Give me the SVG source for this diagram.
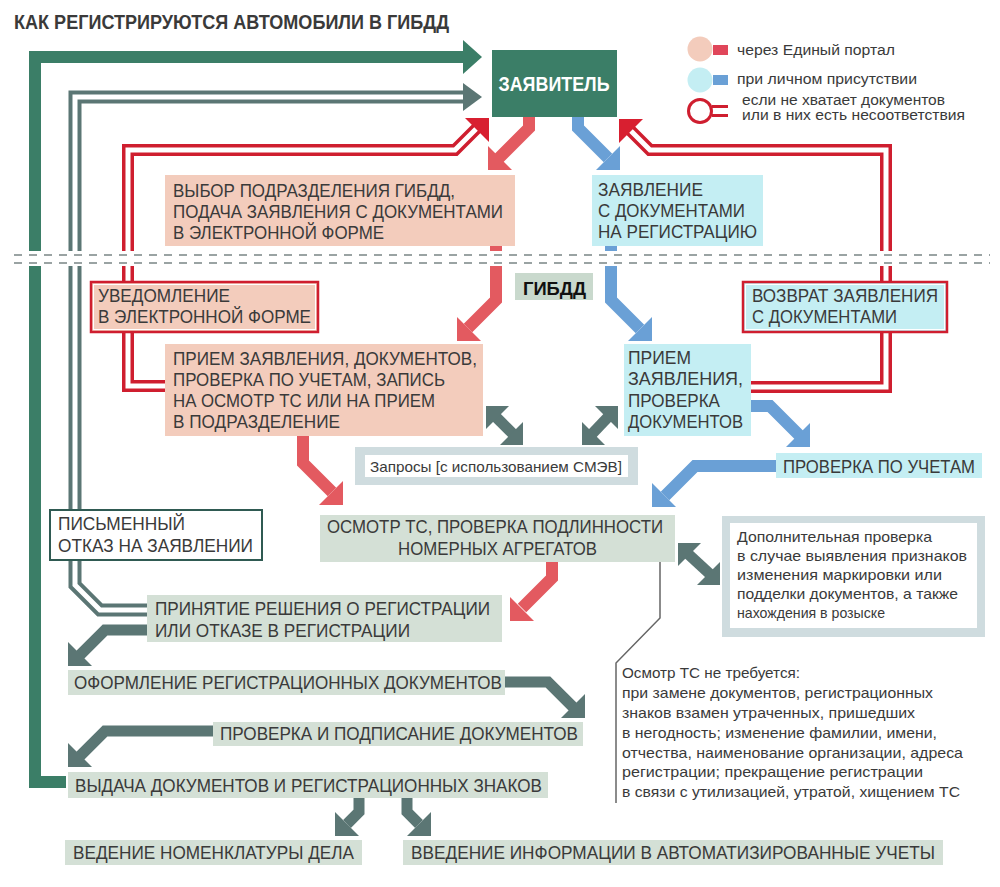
<svg xmlns="http://www.w3.org/2000/svg" width="1000" height="887" viewBox="0 0 1000 887">
<defs>
<style>
text{font-family:"Liberation Sans",Arial,sans-serif;fill:#3a3a3a}
.t{font-size:18px}
.s{font-size:15px}
.l{font-size:14px}
.pink{fill:#f3ccbc}
.blue{fill:#c4eef3}
.gg{fill:#d4e0d6}
.sr{fill:none;stroke:#e35a60;stroke-width:12}
.hr{fill:#e35a60}
.sb{fill:none;stroke:#6aa0d6;stroke-width:12}
.hb{fill:#6aa0d6}
.sg{fill:none;stroke:#5b7674;stroke-width:11}
.hg{fill:#5b7674}
.dr{fill:none;stroke:#cf1e2f;stroke-width:12}
.dg{fill:none;stroke:#5b7674;stroke-width:13}
.dw{fill:none;stroke:#fff;stroke-width:5}
.hd{fill:#d81f30}
.rb{fill:none;stroke:#cf1e2f;stroke-width:2.5}
.ib{fill:none;stroke:#fff;stroke-width:1}
.qo{fill:#cfdcdf}
.dash{stroke:#9aa3a3;stroke-width:2;stroke-dasharray:8 7}
</style>
</defs>
<rect x="0" y="0" width="1000" height="887" fill="#fff"/>

<g id="connectors">
  <path d="M66,782 H35 V57 H465" fill="none" stroke="#3b7e67" stroke-width="12"/>
  <polygon points="482,57 463,40 463,74" fill="#3b7e67"/>
  <path class="dg" d="M148,610 H100 L75,585 V97 H466"/>
  <path class="dw" d="M148,610 H100 L75,585 V97 H466"/>
  <polygon class="hg" points="482,97 463,83 463,111"/>
  <path class="dr" d="M166,386 H128 V150 H455 L479,126"/>
  <path class="dw" d="M166,386 H128 V150 H455 L479,126"/>
  <polygon class="hd" points="489,118 465,118 489,142"/>
  <path class="dr" d="M751,387 H886 V150 H650 L629,129"/>
  <path class="dw" d="M751,387 H886 V150 H650 L629,129"/>
  <polygon class="hd" points="619,119 643,119 619,143"/>
  <path class="sr" d="M529,117 V128 L499,158"/>
  <polygon class="hr" points="488,170 488,146 512,170"/>
  <path class="sb" d="M578,117 V128 L608,158"/>
  <polygon class="hb" points="620,170 620,146 596,170"/>
  <path class="sr" d="M496,246 V300 L468,328"/>
  <polygon class="hr" points="457,341 457,317 481,341"/>
  <path class="sb" d="M611,246 V300 L640,329"/>
  <polygon class="hb" points="652,341 652,317 628,341"/>
  <path class="sr" d="M303,436 V463 L332,492"/>
  <polygon class="hr" points="343,505 343,481 319,505"/>
  <path class="sb" d="M751,406 H770 L799,435"/>
  <polygon class="hb" points="810,447 810,423 786,447"/>
  <path class="sb" d="M777,466 H695 L665,496"/>
  <polygon class="hb" points="652,507 652,483 676,507"/>
  <path class="sr" d="M552,562 V578 L522,608"/>
  <polygon class="hr" points="510,621 510,597 534,621"/>
  <path class="sg" d="M148,630 H105 L80,655"/>
  <polygon class="hg" points="68,666 68,642 92,666"/>
  <path class="sg" d="M505,682 H548 L574,708"/>
  <polygon class="hg" points="585,718 585,694 561,718"/>
  <path class="sg" d="M214,731 H105 L80,756"/>
  <polygon class="hg" points="68,767 68,743 92,767"/>
  <path class="sg" d="M359,798 V812 L347,824"/>
  <polygon class="hg" points="335,836 335,812 359,836"/>
  <path class="sg" d="M407,798 V812 L419,824"/>
  <polygon class="hg" points="431,836 431,812 407,836"/>
  <path class="sg" d="M494,415 L515,436"/>
  <polygon class="hg" points="486,406 509,406 486,429"/>
  <polygon class="hg" points="523,445 500,445 523,422"/>
  <path class="sg" d="M610,415 L590,436"/>
  <polygon class="hg" points="618,406 595,406 618,429"/>
  <polygon class="hg" points="582,445 605,445 582,422"/>
  <path class="sg" d="M686,552 L712,576"/>
  <polygon class="hg" points="678,543 701,543 678,566"/>
  <polygon class="hg" points="720,585 697,585 720,562"/>
  <circle cx="660" cy="557" r="2" fill="#555"/>
  <polyline points="660,557 660,618 616,663 616,803" fill="none" stroke="#666" stroke-width="1.5"/>
</g>

<g id="separator">
  <rect x="0" y="251" width="1000" height="15" fill="#fff"/>
  <line class="dash" x1="14" y1="255" x2="990" y2="255"/>
  <line class="dash" x1="14" y1="263" x2="990" y2="263"/>
</g>

<g id="title">
  <text x="14" y="29" font-size="21" font-weight="bold" fill="#222" textLength="435" lengthAdjust="spacingAndGlyphs">КАК РЕГИСТРИРУЮТСЯ АВТОМОБИЛИ В ГИБДД</text>
</g>

<g id="legend">
  <circle cx="700" cy="49" r="12.5" fill="#f3ccbc"/>
  <rect x="713" y="45" width="15" height="10" fill="#e0465a"/>
  <text class="l" x="737" y="55" textLength="158" lengthAdjust="spacingAndGlyphs">через Единый портал</text>
  <circle cx="700" cy="80" r="12.5" fill="#c4eef3"/>
  <rect x="713" y="75" width="15" height="10" fill="#6aa0d6"/>
  <text class="l" x="737" y="84" textLength="180" lengthAdjust="spacingAndGlyphs">при личном присутствии</text>
  <circle cx="700" cy="111" r="11.5" fill="#fff" stroke="#cf1e2f" stroke-width="3"/>
  <line x1="712" y1="106.5" x2="728" y2="106.5" stroke="#cf1e2f" stroke-width="3"/>
  <line x1="712" y1="115.5" x2="728" y2="115.5" stroke="#cf1e2f" stroke-width="3"/>
  <text class="l" x="742" y="105" textLength="203" lengthAdjust="spacingAndGlyphs">если не хватает документов</text>
  <text class="l" x="742" y="120" textLength="223" lengthAdjust="spacingAndGlyphs">или в них есть несоответствия</text>
</g>

<g id="zayavitel">
  <rect x="492" y="50" width="125" height="67" fill="#3b7e67"/>
  <text x="554" y="91" font-size="20" font-weight="bold" text-anchor="middle" style="fill:#fff" textLength="111" lengthAdjust="spacingAndGlyphs">ЗАЯВИТЕЛЬ</text>
</g>

<g id="vybor">
  <rect class="pink" x="165" y="175" width="350" height="71"/>
  <text class="t" x="173" y="197" textLength="282" lengthAdjust="spacingAndGlyphs">ВЫБОР ПОДРАЗДЕЛЕНИЯ ГИБДД,</text>
  <text class="t" x="173" y="218" textLength="330" lengthAdjust="spacingAndGlyphs">ПОДАЧА ЗАЯВЛЕНИЯ С ДОКУМЕНТАМИ</text>
  <text class="t" x="173" y="239" textLength="211" lengthAdjust="spacingAndGlyphs">В ЭЛЕКТРОННОЙ ФОРМЕ</text>
</g>

<g id="zayavlenie">
  <rect class="blue" x="592" y="175" width="171" height="71"/>
  <text class="t" x="598" y="196" textLength="105" lengthAdjust="spacingAndGlyphs">ЗАЯВЛЕНИЕ</text>
  <text class="t" x="598" y="217" textLength="147" lengthAdjust="spacingAndGlyphs">С ДОКУМЕНТАМИ</text>
  <text class="t" x="598" y="238" textLength="159" lengthAdjust="spacingAndGlyphs">НА РЕГИСТРАЦИЮ</text>
</g>

<g id="gibdd">
  <rect x="515" y="273" width="78" height="27" fill="#c9d9cd"/>
  <text x="523" y="295" font-size="19" font-weight="bold" style="fill:#111" textLength="63" lengthAdjust="spacingAndGlyphs">ГИБДД</text>
</g>

<g id="uvedomlenie">
  <rect class="pink" x="91" y="282" width="227" height="50"/>
  <rect class="rb" x="91" y="282" width="227" height="50"/>
  <rect class="ib" x="93.5" y="284.5" width="222" height="45"/>
  <text class="t" x="98" y="302" textLength="132" lengthAdjust="spacingAndGlyphs">УВЕДОМЛЕНИЕ</text>
  <text class="t" x="98" y="323" textLength="213" lengthAdjust="spacingAndGlyphs">В ЭЛЕКТРОННОЙ ФОРМЕ</text>
</g>

<g id="vozvrat">
  <rect class="blue" x="743" y="282" width="204" height="50"/>
  <rect class="rb" x="743" y="282" width="204" height="50"/>
  <rect class="ib" x="745.5" y="284.5" width="199" height="45"/>
  <text class="t" x="752" y="302" textLength="186" lengthAdjust="spacingAndGlyphs">ВОЗВРАТ ЗАЯВЛЕНИЯ</text>
  <text class="t" x="752" y="323" textLength="145" lengthAdjust="spacingAndGlyphs">С ДОКУМЕНТАМИ</text>
</g>

<g id="priem-portal">
  <rect class="pink" x="165" y="344" width="318" height="92"/>
  <text class="t" x="173" y="365" textLength="304" lengthAdjust="spacingAndGlyphs">ПРИЕМ ЗАЯВЛЕНИЯ, ДОКУМЕНТОВ,</text>
  <text class="t" x="173" y="386" textLength="272" lengthAdjust="spacingAndGlyphs">ПРОВЕРКА ПО УЧЕТАМ, ЗАПИСЬ</text>
  <text class="t" x="173" y="407" textLength="262" lengthAdjust="spacingAndGlyphs">НА ОСМОТР ТС ИЛИ НА ПРИЕМ</text>
  <text class="t" x="173" y="428" textLength="167" lengthAdjust="spacingAndGlyphs">В ПОДРАЗДЕЛЕНИЕ</text>
</g>

<g id="priem-lichno">
  <rect class="blue" x="624" y="344" width="127" height="92"/>
  <text class="t" x="628" y="364" textLength="63" lengthAdjust="spacingAndGlyphs">ПРИЕМ</text>
  <text class="t" x="628" y="385" textLength="115" lengthAdjust="spacingAndGlyphs">ЗАЯВЛЕНИЯ,</text>
  <text class="t" x="628" y="407" textLength="92" lengthAdjust="spacingAndGlyphs">ПРОВЕРКА</text>
  <text class="t" x="628" y="428" textLength="115" lengthAdjust="spacingAndGlyphs">ДОКУМЕНТОВ</text>
</g>

<g id="zaprosy">
  <rect class="qo" x="355" y="447" width="283" height="38"/>
  <rect x="365" y="455" width="263" height="22" fill="#fff"/>
  <text class="s" x="370" y="472" textLength="252" lengthAdjust="spacingAndGlyphs">Запросы [с использованием СМЭВ]</text>
</g>

<g id="proverka-uchety">
  <rect class="blue" x="776" y="453" width="206" height="25"/>
  <text class="t" x="783" y="473" textLength="192" lengthAdjust="spacingAndGlyphs">ПРОВЕРКА ПО УЧЕТАМ</text>
</g>

<g id="osmotr">
  <rect class="gg" x="320" y="515" width="355" height="47"/>
  <text class="t" x="327" y="533" textLength="336" lengthAdjust="spacingAndGlyphs">ОСМОТР ТС, ПРОВЕРКА ПОДЛИННОСТИ</text>
  <text class="t" x="398" y="555" textLength="199" lengthAdjust="spacingAndGlyphs">НОМЕРНЫХ АГРЕГАТОВ</text>
</g>

<g id="dop-proverka">
  <rect class="qo" x="722" y="516" width="263" height="121"/>
  <rect x="730" y="523" width="247" height="105" fill="#fff"/>
  <text class="s" x="737" y="542" textLength="195" lengthAdjust="spacingAndGlyphs">Дополнительная проверка</text>
  <text class="s" x="737" y="561" textLength="230" lengthAdjust="spacingAndGlyphs">в случае выявления признаков</text>
  <text class="s" x="737" y="580" textLength="205" lengthAdjust="spacingAndGlyphs">изменения маркировки или</text>
  <text class="s" x="737" y="599" textLength="221" lengthAdjust="spacingAndGlyphs">подделки документов, а также</text>
  <text class="s" x="737" y="618" textLength="148" lengthAdjust="spacingAndGlyphs">нахождения в розыске</text>
</g>

<g id="otkaz">
  <rect x="50" y="510" width="212" height="50" fill="#fff" stroke="#2f5a52" stroke-width="2"/>
  <text class="t" x="58" y="530" textLength="127" lengthAdjust="spacingAndGlyphs">ПИСЬМЕННЫЙ</text>
  <text class="t" x="58" y="552" textLength="195" lengthAdjust="spacingAndGlyphs">ОТКАЗ НА ЗАЯВЛЕНИИ</text>
</g>

<g id="reshenie">
  <rect class="gg" x="147" y="595" width="355" height="47"/>
  <text class="t" x="155" y="615" textLength="335" lengthAdjust="spacingAndGlyphs">ПРИНЯТИЕ РЕШЕНИЯ О РЕГИСТРАЦИИ</text>
  <text class="t" x="155" y="637" textLength="255" lengthAdjust="spacingAndGlyphs">ИЛИ ОТКАЗЕ В РЕГИСТРАЦИИ</text>
</g>

<g id="oformlenie">
  <rect class="gg" x="68" y="670" width="437" height="25"/>
  <text class="t" x="74" y="689" textLength="428" lengthAdjust="spacingAndGlyphs">ОФОРМЛЕНИЕ РЕГИСТРАЦИОННЫХ ДОКУМЕНТОВ</text>
</g>

<g id="podpisanie">
  <rect class="gg" x="213" y="722" width="370" height="24"/>
  <text class="t" x="220" y="740" textLength="358" lengthAdjust="spacingAndGlyphs">ПРОВЕРКА И ПОДПИСАНИЕ ДОКУМЕНТОВ</text>
</g>

<g id="vydacha">
  <rect class="gg" x="68" y="772" width="480" height="26"/>
  <text class="t" x="75" y="792" textLength="467" lengthAdjust="spacingAndGlyphs">ВЫДАЧА ДОКУМЕНТОВ И РЕГИСТРАЦИОННЫХ ЗНАКОВ</text>
</g>

<g id="nomenklatura">
  <rect class="gg" x="65" y="840" width="297" height="25"/>
  <text class="t" x="73" y="859" textLength="281" lengthAdjust="spacingAndGlyphs">ВЕДЕНИЕ НОМЕНКЛАТУРЫ ДЕЛА</text>
</g>

<g id="avtouchety">
  <rect class="gg" x="403" y="840" width="540" height="25"/>
  <text class="t" x="411" y="859" textLength="524" lengthAdjust="spacingAndGlyphs">ВВЕДЕНИЕ ИНФОРМАЦИИ В АВТОМАТИЗИРОВАННЫЕ УЧЕТЫ</text>
</g>

<g id="note-osmotr">
  <text class="s" x="622" y="678" textLength="178" lengthAdjust="spacingAndGlyphs">Осмотр ТС не требуется:</text>
  <text class="s" x="622" y="698" textLength="311" lengthAdjust="spacingAndGlyphs">при замене документов, регистрационных</text>
  <text class="s" x="622" y="718" textLength="293" lengthAdjust="spacingAndGlyphs">знаков взамен утраченных, пришедших</text>
  <text class="s" x="622" y="738" textLength="315" lengthAdjust="spacingAndGlyphs">в негодность; изменение фамилии, имени,</text>
  <text class="s" x="622" y="758" textLength="341" lengthAdjust="spacingAndGlyphs">отчества, наименование организации, адреса</text>
  <text class="s" x="622" y="777" textLength="301" lengthAdjust="spacingAndGlyphs">регистрации; прекращение регистрации</text>
  <text class="s" x="622" y="797" textLength="338" lengthAdjust="spacingAndGlyphs">в связи с утилизацией, утратой, хищением ТС</text>
</g>
</svg>
